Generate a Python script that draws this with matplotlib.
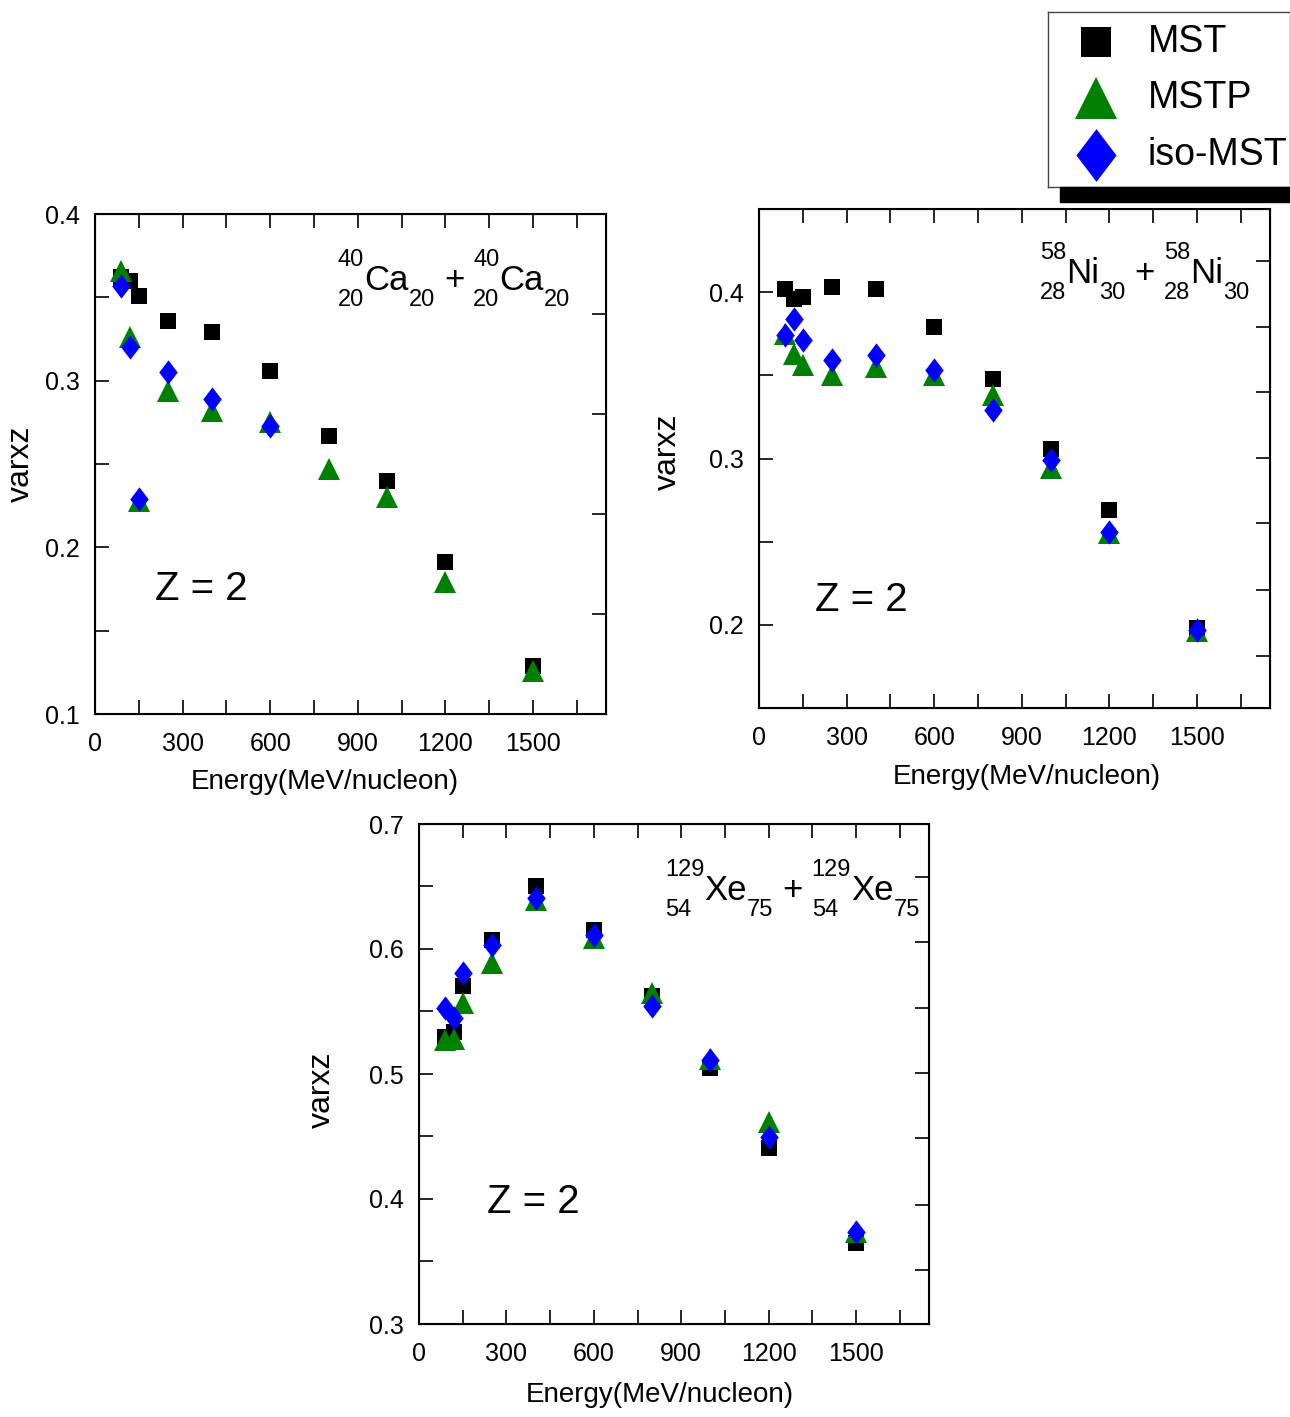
import numpy as np
import matplotlib.pyplot as plt
from matplotlib import font_manager
from matplotlib.ticker import MultipleLocator, FormatStrFormatter
from matplotlib.patches import Rectangle
from matplotlib.transforms import IdentityTransform

plt.rcParams['font.family'] = 'Liberation Sans'

# narrow face for the squeezed-looking texts, if it is installed
have_narrow = 'Liberation Sans Narrow' in {f.name for f in font_manager.fontManager.ttflist}
NARROW = ['Liberation Sans Narrow', 'Liberation Sans'] if have_narrow else ['Liberation Sans']

# ---- data ----
energy = [90, 120, 150, 250, 400, 600, 800, 1000, 1200, 1500]

ca_mst = [0.362, 0.360, 0.351, 0.336, 0.329, 0.306, 0.267, 0.240, 0.191, 0.129]
ca_mstp = [0.366, 0.326, 0.228, 0.294, 0.282, 0.275, 0.247, 0.230, 0.179, 0.126]
ca_iso_energy = [90, 120, 150, 250, 400, 600]
ca_iso = [0.357, 0.320, 0.229, 0.305, 0.289, 0.273]

ni_mst = [0.402, 0.396, 0.397, 0.403, 0.402, 0.379, 0.348, 0.306, 0.269, 0.198]
ni_mstp = [0.375, 0.363, 0.356, 0.350, 0.355, 0.350, 0.338, 0.294, 0.255, 0.196]
ni_iso = [0.374, 0.384, 0.371, 0.359, 0.362, 0.353, 0.329, 0.299, 0.256, 0.197]

xe_mst = [0.530, 0.534, 0.570, 0.607, 0.650, 0.615, 0.562, 0.505, 0.441, 0.365]
xe_mstp = [0.527, 0.528, 0.557, 0.589, 0.639, 0.609, 0.565, 0.512, 0.462, 0.374]
xe_iso = [0.553, 0.545, 0.581, 0.603, 0.641, 0.611, 0.554, 0.511, 0.450, 0.374]

series_names = ['MST', 'MSTP', 'iso-MST']
series_colors = ['black', '#008000', '#0000ff']

W, H = 1290, 1417
fig = plt.figure(figsize=(W / 100, H / 100), dpi=100)
renderer = fig.canvas.get_renderer()


def px_box(l, r, t, b):
    return [l / W, 1 - b / H, (r - l) / W, (b - t) / H]


diamond = [(0, 1), (0.76, 0), (0, -1), (-0.76, 0), (0, 1)]
markers = ['s', '^', diamond]
msizes = [11, 15.5, 17.5]


def ptext(x, y_top, s, size, family=None):
    # text placed in output pixels, y measured from the top of the image
    t = fig.text(x, H - y_top, s, fontsize=size, ha='left', va='baseline',
                 transform=IdentityTransform(),
                 family=family if family else 'Liberation Sans')
    return t.get_window_extent(renderer).width


def nuclide_pair(x0, base, mass, charge, sym, neutrons):
    small = 18 if have_narrow else 17
    x = x0
    for k in range(2):
        w1 = ptext(x, base - 24, mass, small, NARROW)
        w2 = ptext(x, base + 16, charge, small, NARROW)
        x += max(w1, w2)
        x += ptext(x, base, sym, 25)
        x += ptext(x, base + 16, neutrons, small, NARROW)
        if k == 0:
            x += 9
            x += ptext(x, base, '+', 25) + 9


def panel(box, xs, ys, ylim, yticks, xlab_xy, ylab_xy, z_xy, right_ticks):
    ax = fig.add_axes(box)
    for x, y, m, s, c in zip(xs, ys, markers, msizes, series_colors):
        ax.plot(x, y, linestyle='none', marker=m, markersize=s, color=c,
                markeredgewidth=0)
    ax.set_xlim(0, 1750)
    ax.set_ylim(*ylim)
    ax.set_xticks([0, 300, 600, 900, 1200, 1500])
    ax.xaxis.set_minor_locator(MultipleLocator(150))
    ax.set_yticks(yticks)
    ax.yaxis.set_minor_locator(MultipleLocator(0.05))
    ax.yaxis.set_major_formatter(FormatStrFormatter('%.1f'))
    ax.tick_params(which='both', direction='in', top=True, right=False,
                   length=10, width=1.2)
    ax.tick_params(axis='x', labelsize=18, pad=13)
    ax.tick_params(axis='y', labelsize=18, pad=11)
    for sp in ax.spines.values():
        sp.set_linewidth(1.5)

    tw = ax.twinx()
    tw.set_ylim(0, 1)
    tw.set_yticks(right_ticks)
    tw.tick_params(direction='in', length=10, width=1.2, labelright=False)

    ax.set_xlabel('Energy(MeV/nucleon)', fontsize=20)
    ax.xaxis.set_label_coords(*xlab_xy)
    ax.set_ylabel('varxz', fontsize=23)
    ax.yaxis.set_label_coords(*ylab_xy)
    ax.text(*z_xy, 'Z = 2', transform=ax.transAxes,
            fontsize=33 if have_narrow else 29, family=NARROW,
            ha='left', va='center')
    return ax


panel(px_box(95, 606, 214, 714),
      [energy, energy, ca_iso_energy], [ca_mst, ca_mstp, ca_iso],
      (0.1, 0.4), [0.1, 0.2, 0.3, 0.4],
      (0.45, -0.11), (-0.115, 0.5), (0.117, 0.25),
      [0.2, 0.4, 0.6, 0.8])
nuclide_pair(338, 290, '40', '20', 'Ca', '20')

panel(px_box(759, 1270, 209, 708),
      [energy, energy, energy], [ni_mst, ni_mstp, ni_iso],
      (0.15, 0.45), [0.2, 0.3, 0.4],
      (0.524, -0.112), (-0.149, 0.513), (0.11, 0.216),
      [0.105, 0.237, 0.370, 0.501, 0.633, 0.764, 0.896])
nuclide_pair(1040, 283, '58', '28', 'Ni', '30')

panel(px_box(419, 929, 824, 1324),
      [energy, energy, energy], [xe_mst, xe_mstp, xe_iso],
      (0.3, 0.7), [0.3, 0.4, 0.5, 0.6, 0.7],
      (0.4725, -0.115), (-0.161, 0.468), (0.133, 0.244),
      [0.108, 0.239, 0.373, 0.502, 0.632, 0.764, 0.894])
nuclide_pair(665, 900, '129', '54', 'Xe', '75')

# ---- legend box with black drop shadow ----
fig.patches.append(Rectangle((1060 / W, 1 - 202 / H), 1 - 1060 / W, 15 / H,
                             transform=fig.transFigure, color='black'))
lg = fig.add_axes(px_box(1048, 1290, 12, 187))
lg.set_xlim(0, 1)
lg.set_ylim(0, 1)
lg.set_xticks([])
lg.set_yticks([])
for sp in lg.spines.values():
    sp.set_linewidth(1.0)
    sp.set_color('#444444')
row_y = [0.829, 0.509, 0.183]
leg_sizes = [22, 30, 38]
for name, m, s, c, y in zip(series_names, markers, leg_sizes, series_colors, row_y):
    lg.plot([0.2], [y], linestyle='none', marker=m, markersize=s, color=c,
            markeredgewidth=0)
    lg.text(0.413, y, name, fontsize=31 if have_narrow else 27, family=NARROW,
            ha='left', va='center')

fig.savefig('out.png', dpi=100)
